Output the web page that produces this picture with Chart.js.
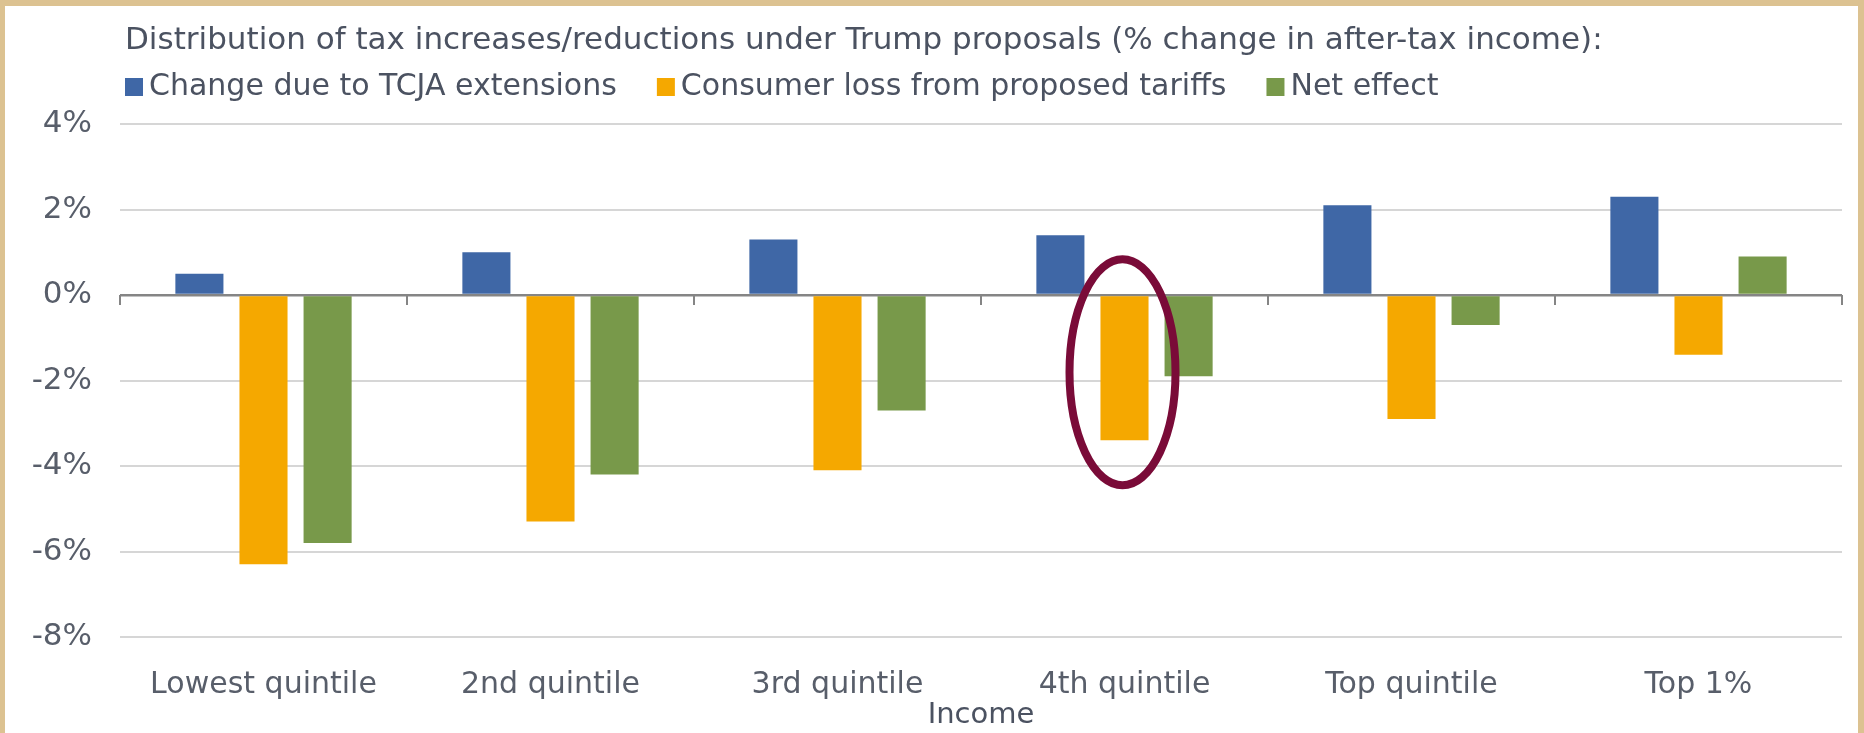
<!DOCTYPE html>
<html>
<head>
<meta charset="utf-8">
<title>Tax changes by income group</title>
<script src="https://cdn.jsdelivr.net/npm/chart.js@4.4.1/dist/chart.umd.min.js"></script>
<style>
  html, body { margin: 0; padding: 0; }
  body { width: 1864px; height: 733px; background: #dcc291; overflow: hidden; position: relative; }
  #panel { position: absolute; left: 5px; top: 6px; width: 1853px; height: 727px; background: #fff; }
  canvas { display: block; }
</style>
</head>
<body>
<div id="panel"><canvas id="taxChart" width="1853" height="727"></canvas></div>
<script>
"use strict"
//Inkomstgrupper och förändring i disponibel inkomst (%)
const groups = ["Lowest quintile", "2nd quintile", "3rd quintile", "4th quintile", "Top quintile", "Top 1%"];
const tcjaChange = [0.5, 1.0, 1.3, 1.4, 2.1, 2.3];
const tariffLoss = [-6.3, -5.3, -4.1, -3.4, -2.9, -1.4];
const netEffect = [-5.8, -4.2, -2.7, -1.9, -0.7, 0.9];
const seriesNames = ["Change due to TCJA extensions", "Consumer loss from proposed tariffs", "Net effect"];
const yTicks = [-8, -6, -4, -2, 0, 2, 4];
const chartTitle = "Distribution of tax increases/reductions under Trump proposals (% change in after-tax income):";
const axisTitle = "Income";

const textColor = "#4b5261";
const tickColor = "#585e6a";
const fontFamily = "'DejaVu Sans', sans-serif";

//Rubrik och förklaring ritas för hand (vänsterställd över diagrammet)
const headerPlugin = {
    id: 'header',
    afterDraw(chart) {
        const ctx = chart.ctx;
        ctx.save();
        ctx.textBaseline = "middle";
        ctx.textAlign = "left";
        ctx.fillStyle = textColor;
        ctx.font = "31px " + fontFamily;
        ctx.fillText(chartTitle, 120, 35);

        ctx.font = "30px " + fontFamily;
        let x = 120;
        chart.data.datasets.forEach(ds => {
            ctx.fillStyle = ds.backgroundColor;
            ctx.fillRect(x, 81 - 9, 18, 18);
            ctx.fillStyle = textColor;
            ctx.fillText(ds.label, x + 24, 81);
            x += 24 + ctx.measureText(ds.label).width + 40;
        });
        ctx.restore();
    }
};

//Små streck vid kategorigränserna på nollinjen + ring runt 4:e kvintilens tullstapel
const marksPlugin = {
    id: 'marks',
    afterDatasetsDraw(chart) {
        const { ctx, scales: { x, y } } = chart;
        const y0 = y.getPixelForValue(0);
        ctx.save();
        ctx.strokeStyle = "#858585";
        ctx.lineWidth = 2;
        for (let i = 0; i <= groups.length; i++) {
            const px = Math.round(x.getPixelForValue(i - 0.5));
            ctx.beginPath();
            ctx.moveTo(px, y0);
            ctx.lineTo(px, y0 + 10);
            ctx.stroke();
        }

        const bar = chart.getDatasetMeta(1).data[3];
        ctx.strokeStyle = "#7a0b38";
        ctx.lineWidth = 8;
        ctx.beginPath();
        ctx.ellipse(bar.x - 2, (bar.y + bar.base) / 2 + 4, 53, 113, 0, 0, Math.PI * 2);
        ctx.stroke();
        ctx.restore();
    }
};

const canvas = document.getElementById('taxChart');
const ctx = canvas.getContext('2d');

new Chart(ctx, {
    type: 'bar',
    data: {
        labels: groups,
        datasets: [
            { label: seriesNames[0], data: tcjaChange, backgroundColor: "#3f67a6" },
            { label: seriesNames[1], data: tariffLoss, backgroundColor: "#f5a800" },
            { label: seriesNames[2], data: netEffect, backgroundColor: "#78994a" }
        ]
    },
    options: {
        responsive: false,
        animation: false,
        barPercentage: 0.75,
        categoryPercentage: 0.67,
        layout: { padding: { left: 0, right: 16, top: 118, bottom: 0 } },
        plugins: {
            legend: { display: false },
            tooltip: { enabled: false }
        },
        scales: {
            x: {
                grid: { display: false, drawTicks: false },
                border: { display: false },
                afterFit: axis => { axis.height = 96; },
                ticks: { padding: 30, color: tickColor, font: { family: fontFamily, size: 30 } },
                title: { display: true, text: axisTitle, padding: 0, color: textColor, font: { family: fontFamily, size: 29 } }
            },
            y: {
                min: -8,
                max: 4,
                afterBuildTicks: axis => { axis.ticks = yTicks.map(v => ({ value: v })); },
                afterFit: axis => { axis.width = 115; },
                border: { display: false },
                grid: {
                    drawTicks: false,
                    color: c => c.tick.value === 0 ? "#858585" : "#d6d6d6",
                    lineWidth: c => c.tick.value === 0 ? 2.5 : 2
                },
                ticks: {
                    padding: 28,
                    color: tickColor,
                    font: { family: fontFamily, size: 31 },
                    callback: v => v + "%"
                }
            }
        }
    },
    plugins: [headerPlugin, marksPlugin]
});
</script>
</body>
</html>
